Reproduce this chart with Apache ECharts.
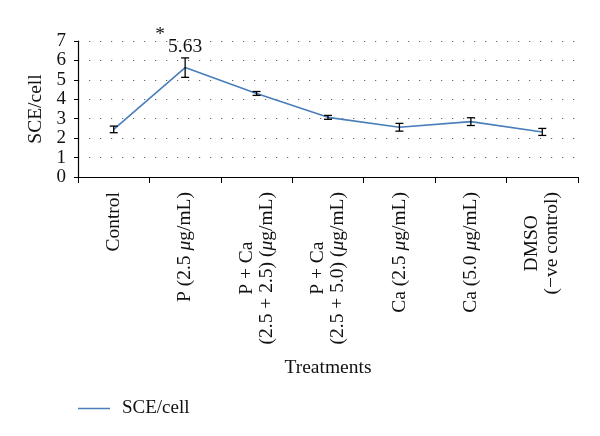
<!DOCTYPE html>
<html><head><meta charset="utf-8">
<script src="https://cdn.jsdelivr.net/npm/echarts@6/dist/echarts.min.js"></script>
<style>html,body{margin:0;padding:0;background:#fff}#c{width:600px;height:436px}</style>
</head><body><div id="c"></div>
<script>
const categories = ['Control', 'P (2.5 μg/mL)', 'P + Ca\n(2.5 + 2.5) (μg/mL)', 'P + Ca\n(2.5 + 5.0) (μg/mL)', 'Ca (2.5 μg/mL)', 'Ca (5.0 μg/mL)', 'DMSO\n(−ve control)'];
const values = [2.45, 5.63, 4.30, 3.07, 2.56, 2.85, 2.32];
const errors = [0.17, 0.50, 0.10, 0.10, 0.20, 0.20, 0.18];
const annotIndex = 1;
const annotText = '5.63';
const annotMark = '*';
const yTicks = [0, 1, 2, 3, 4, 5, 6, 7];

const FONT = 'Liberation Serif';
function richLabel(s) {
  return s.split('\n').map(line => line.split('μ').map(p => p ? '{n|' + p + '}' : '').join('{i|μ}')).join('\n');
}
const chart = echarts.init(document.getElementById('c'), null, {renderer: 'canvas'});
chart.setOption({
  animation: false,
  textStyle: {fontFamily: FONT},
  grid: {left: 78, right: 22, top: 41, bottom: 259, containLabel: false},
  legend: {
    data: [{name: 'SCE/cell', icon: 'rect'}], left: 73, top: 394, itemWidth: 32, itemHeight: 1.5, itemGap: 10,
    textStyle: {fontFamily: FONT, fontSize: 19, color: '#111', padding: [0, 0, 0, 7]}
  },
  xAxis: {
    type: 'category', data: categories, boundaryGap: true,
    name: 'Treatments', nameLocation: 'middle', nameGap: 181,
    nameTextStyle: {fontFamily: FONT, fontSize: 19.5, color: '#111'},
    axisLine: {lineStyle: {color: '#000', width: 1.2}},
    axisTick: {show: true, length: 6, lineStyle: {color: '#000'}},
    axisLabel: {
      rotate: 90, margin: 15, interval: 0, color: '#111',
      formatter: v => richLabel(v),
      rich: {
        n: {fontFamily: FONT, fontSize: 19.5, align: 'center', lineHeight: 20, color: '#111'},
        i: {fontFamily: FONT, fontSize: 19.5, fontStyle: 'italic', align: 'center', lineHeight: 20, color: '#111'}
      }
    }
  },
  yAxis: {
    type: 'value', min: yTicks[0], max: yTicks[yTicks.length - 1], interval: 1,
    name: 'SCE/cell', nameLocation: 'middle', nameGap: 31, nameRotate: 90,
    nameTextStyle: {fontFamily: FONT, fontSize: 19.5, color: '#111'},
    axisLine: {show: true, lineStyle: {color: '#000', width: 1.2}},
    axisTick: {show: true, length: 4, lineStyle: {color: '#000'}},
    axisLabel: {fontFamily: FONT, fontSize: 19, lineHeight: 17, color: '#111', margin: 12, showMinLabel: true, showMaxLabel: true, hideOverlap: false},
    splitLine: {show: true, lineStyle: {color: '#666', width: 1.2, type: [1.2, 9.8]}}
  },
  series: [
    {
      name: 'SCE/cell', type: 'line', data: values, symbol: 'none',
      lineStyle: {color: '#4a7ebb', width: 1.6}, itemStyle: {color: '#4a7ebb'}, z: 2
    },
    {
      name: 'err', type: 'custom', z: 3,
      data: values.map((v, i) => [i, v - errors[i], v + errors[i], v]),
      renderItem: function (params, api) {
        const i = api.value(0);
        const lo = api.coord([i, api.value(1)]);
        const hi = api.coord([i, api.value(2)]);
        const mid = api.coord([i, api.value(3)]);
        const w = 4;
        const st = {stroke: '#000', lineWidth: 1.3};
        const children = [
          {type: 'line', shape: {x1: lo[0], y1: lo[1], x2: hi[0], y2: hi[1]}, style: st},
          {type: 'line', shape: {x1: lo[0] - w, y1: lo[1], x2: lo[0] + w, y2: lo[1]}, style: st},
          {type: 'line', shape: {x1: hi[0] - w, y1: hi[1], x2: hi[0] + w, y2: hi[1]}, style: st}
        ];
        if (i === annotIndex) {
          children.push({type: 'text', style: {text: annotText, x: mid[0], y: hi[1] - 1, align: 'center', verticalAlign: 'bottom', font: '19.5px "Liberation Serif"', fill: '#111'}});
          children.push({type: 'text', style: {text: annotMark, x: mid[0] - 25, y: hi[1] - 13, align: 'center', verticalAlign: 'bottom', font: '19.5px "Liberation Serif"', fill: '#111'}});
        }
        return {type: 'group', children: children};
      }
    }
  ]
});
</script></body></html>
